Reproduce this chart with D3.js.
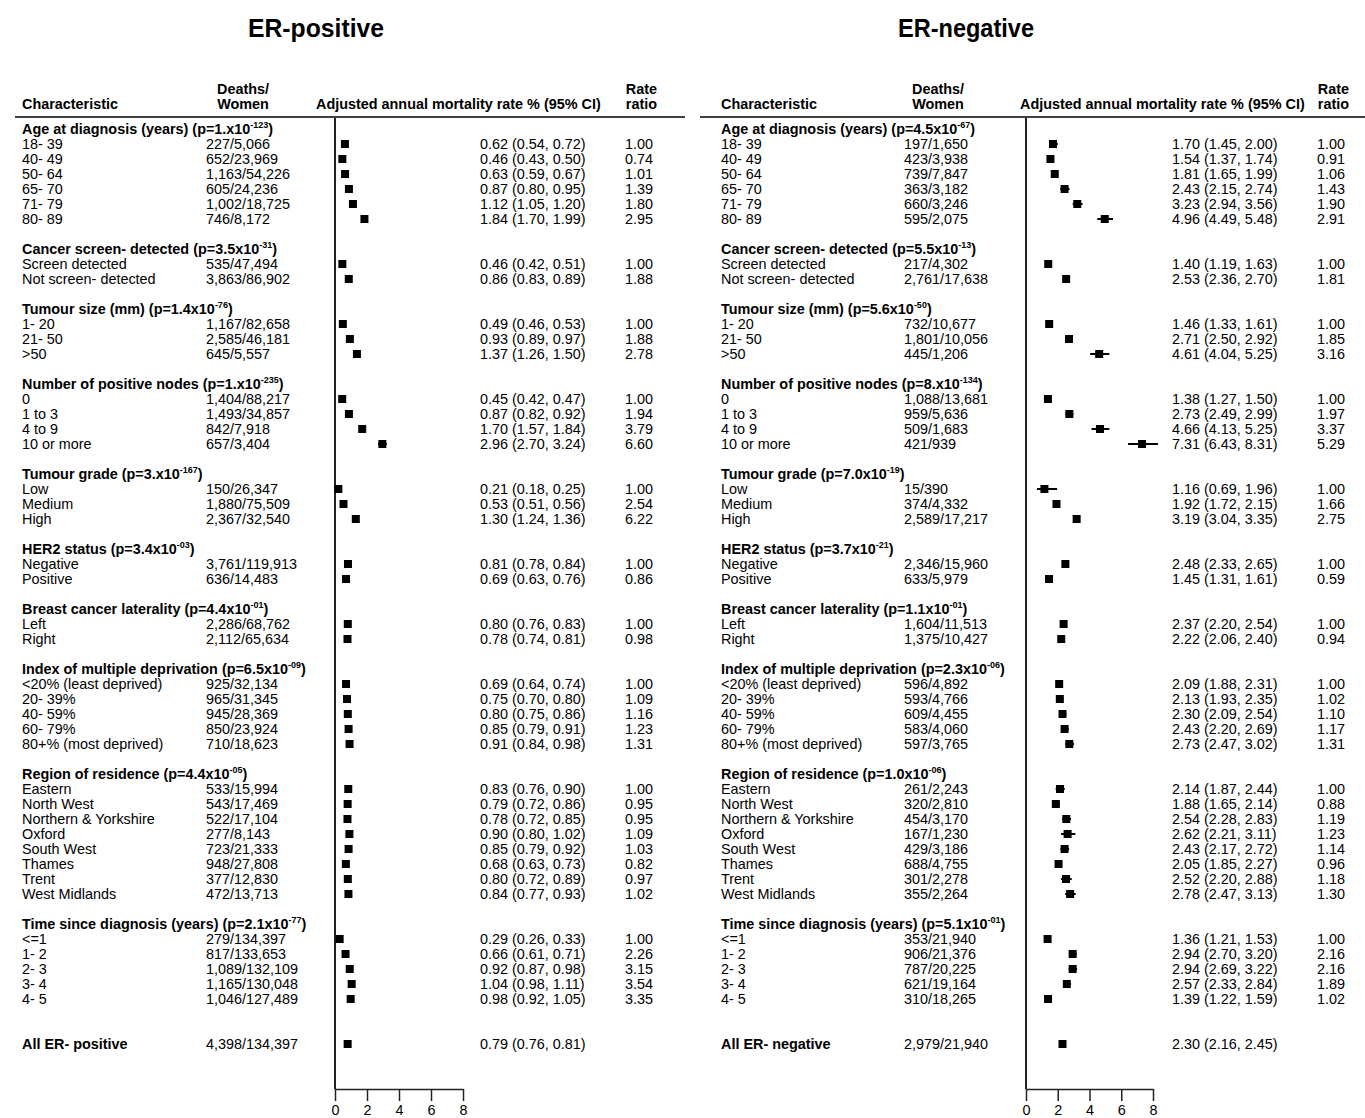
<!DOCTYPE html>
<html>
<head>
<meta charset="utf-8">
<script src="https://cdn.jsdelivr.net/npm/d3@7"></script>
<style>
  html, body { margin: 0; padding: 0; background: #fff; }
  svg text { font-family: "Liberation Sans", Arial, sans-serif; fill: #000; }
</style>
</head>
<body>
<script>
// Section headings and row categories (shared by both panels)
const sectionTitles = [
  "Age at diagnosis (years)", "Cancer screen- detected", "Tumour size (mm)",
  "Number of positive nodes", "Tumour grade", "HER2 status",
  "Breast cancer laterality", "Index of multiple deprivation",
  "Region of residence", "Time since diagnosis (years)"
];
const rowLabels = [
  ["18- 39", "40- 49", "50- 64", "65- 70", "71- 79", "80- 89"],
  ["Screen detected", "Not screen- detected"],
  ["1- 20", "21- 50", ">50"],
  ["0", "1 to 3", "4 to 9", "10 or more"],
  ["Low", "Medium", "High"],
  ["Negative", "Positive"],
  ["Left", "Right"],
  ["<20% (least deprived)", "20- 39%", "40- 59%", "60- 79%", "80+% (most deprived)"],
  ["Eastern", "North West", "Northern & Yorkshire", "Oxford", "South West", "Thames", "Trent", "West Midlands"],
  ["<=1", "1- 2", "2- 3", "3- 4", "4- 5"]
];
const axisTicks = [0, 2, 4, 6, 8];

// ER-positive
const posPMant = ["1.", "3.5", "1.4", "1.", "3.", "3.4", "4.4", "6.5", "4.4", "2.1"];
const posPExp = ["-123", "-31", "-76", "-235", "-167", "-03", "-01", "-09", "-05", "-77"];
const posDeaths = [
  "227/5,066", "652/23,969", "1,163/54,226", "605/24,236", "1,002/18,725", "746/8,172",
  "535/47,494", "3,863/86,902",
  "1,167/82,658", "2,585/46,181", "645/5,557",
  "1,404/88,217", "1,493/34,857", "842/7,918", "657/3,404",
  "150/26,347", "1,880/75,509", "2,367/32,540",
  "3,761/119,913", "636/14,483",
  "2,286/68,762", "2,112/65,634",
  "925/32,134", "965/31,345", "945/28,369", "850/23,924", "710/18,623",
  "533/15,994", "543/17,469", "522/17,104", "277/8,143", "723/21,333", "948/27,808", "377/12,830", "472/13,713",
  "279/134,397", "817/133,653", "1,089/132,109", "1,165/130,048", "1,046/127,489"
];
const posRate = [0.62, 0.46, 0.63, 0.87, 1.12, 1.84, 0.46, 0.86, 0.49, 0.93, 1.37, 0.45, 0.87, 1.70, 2.96,
  0.21, 0.53, 1.30, 0.81, 0.69, 0.80, 0.78, 0.69, 0.75, 0.80, 0.85, 0.91,
  0.83, 0.79, 0.78, 0.90, 0.85, 0.68, 0.80, 0.84, 0.29, 0.66, 0.92, 1.04, 0.98];
const posLo = [0.54, 0.43, 0.59, 0.80, 1.05, 1.70, 0.42, 0.83, 0.46, 0.89, 1.26, 0.42, 0.82, 1.57, 2.70,
  0.18, 0.51, 1.24, 0.78, 0.63, 0.76, 0.74, 0.64, 0.70, 0.75, 0.79, 0.84,
  0.76, 0.72, 0.72, 0.80, 0.79, 0.63, 0.72, 0.77, 0.26, 0.61, 0.87, 0.98, 0.92];
const posHi = [0.72, 0.50, 0.67, 0.95, 1.20, 1.99, 0.51, 0.89, 0.53, 0.97, 1.50, 0.47, 0.92, 1.84, 3.24,
  0.25, 0.56, 1.36, 0.84, 0.76, 0.83, 0.81, 0.74, 0.80, 0.86, 0.91, 0.98,
  0.90, 0.86, 0.85, 1.02, 0.92, 0.73, 0.89, 0.93, 0.33, 0.71, 0.98, 1.11, 1.05];
const posRatio = [1.00, 0.74, 1.01, 1.39, 1.80, 2.95, 1.00, 1.88, 1.00, 1.88, 2.78, 1.00, 1.94, 3.79, 6.60,
  1.00, 2.54, 6.22, 1.00, 0.86, 1.00, 0.98, 1.00, 1.09, 1.16, 1.23, 1.31,
  1.00, 0.95, 0.95, 1.09, 1.03, 0.82, 0.97, 1.02, 1.00, 2.26, 3.15, 3.54, 3.35];
const posTotal = ["All ER- positive", "4,398/134,397", 0.79, 0.76, 0.81];

// ER-negative
const negPMant = ["4.5", "5.5", "5.6", "8.", "7.0", "3.7", "1.1", "2.3", "1.0", "5.1"];
const negPExp = ["-67", "-13", "-50", "-134", "-19", "-21", "-01", "-06", "-06", "-01"];
const negDeaths = [
  "197/1,650", "423/3,938", "739/7,847", "363/3,182", "660/3,246", "595/2,075",
  "217/4,302", "2,761/17,638",
  "732/10,677", "1,801/10,056", "445/1,206",
  "1,088/13,681", "959/5,636", "509/1,683", "421/939",
  "15/390", "374/4,332", "2,589/17,217",
  "2,346/15,960", "633/5,979",
  "1,604/11,513", "1,375/10,427",
  "596/4,892", "593/4,766", "609/4,455", "583/4,060", "597/3,765",
  "261/2,243", "320/2,810", "454/3,170", "167/1,230", "429/3,186", "688/4,755", "301/2,278", "355/2,264",
  "353/21,940", "906/21,376", "787/20,225", "621/19,164", "310/18,265"
];
const negRate = [1.70, 1.54, 1.81, 2.43, 3.23, 4.96, 1.40, 2.53, 1.46, 2.71, 4.61, 1.38, 2.73, 4.66, 7.31,
  1.16, 1.92, 3.19, 2.48, 1.45, 2.37, 2.22, 2.09, 2.13, 2.30, 2.43, 2.73,
  2.14, 1.88, 2.54, 2.62, 2.43, 2.05, 2.52, 2.78, 1.36, 2.94, 2.94, 2.57, 1.39];
const negLo = [1.45, 1.37, 1.65, 2.15, 2.94, 4.49, 1.19, 2.36, 1.33, 2.50, 4.04, 1.27, 2.49, 4.13, 6.43,
  0.69, 1.72, 3.04, 2.33, 1.31, 2.20, 2.06, 1.88, 1.93, 2.09, 2.20, 2.47,
  1.87, 1.65, 2.28, 2.21, 2.17, 1.85, 2.20, 2.47, 1.21, 2.70, 2.69, 2.33, 1.22];
const negHi = [2.00, 1.74, 1.99, 2.74, 3.56, 5.48, 1.63, 2.70, 1.61, 2.92, 5.25, 1.50, 2.99, 5.25, 8.31,
  1.96, 2.15, 3.35, 2.65, 1.61, 2.54, 2.40, 2.31, 2.35, 2.54, 2.69, 3.02,
  2.44, 2.14, 2.83, 3.11, 2.72, 2.27, 2.88, 3.13, 1.53, 3.20, 3.22, 2.84, 1.59];
const negRatio = [1.00, 0.91, 1.06, 1.43, 1.90, 2.91, 1.00, 1.81, 1.00, 1.85, 3.16, 1.00, 1.97, 3.37, 5.29,
  1.00, 1.66, 2.75, 1.00, 0.59, 1.00, 0.94, 1.00, 1.02, 1.10, 1.17, 1.31,
  1.00, 0.88, 1.19, 1.23, 1.14, 0.96, 1.18, 1.30, 1.00, 2.16, 2.16, 1.89, 1.02];
const negTotal = ["All ER- negative", "2,979/21,940", 2.30, 2.16, 2.45];

const W = 1365, H = 1118;
const svg = d3.select("body").append("svg").attr("width", W).attr("height", H);

const f2 = d3.format(".2f");
// row index -> vertical centre of that row
const yRow = d3.scaleLinear().domain([0, 1]).range([129, 144]);
const FS = 14.4;
const BASE = 5; // baseline offset from row centre

function drawPanel(cfg) {
  const g = svg.append("g");
  const x = d3.scaleLinear().domain([0, 8]).range([cfg.x0, cfg.x8]);

  // build row list: section heading, its rows, one blank row
  const rows = [];
  let idx = 0, k = 0;
  sectionTitles.forEach((t, s) => {
    rows.push({ type: "head", i: idx++, title: t, mant: cfg.pMant[s], exp: cfg.pExp[s] });
    rowLabels[s].forEach(lbl => {
      rows.push({ type: "item", i: idx++, label: lbl, deaths: cfg.deaths[k],
        rate: cfg.rate[k], lo: cfg.lo[k], hi: cfg.hi[k], ratio: cfg.ratio[k] });
      k++;
    });
    idx++;
  });
  idx += 1;
  const totalRow = { type: "total", i: idx, label: cfg.total[0], deaths: cfg.total[1],
    rate: cfg.total[2], lo: cfg.total[3], hi: cfg.total[4] };
  rows.push(totalRow);
  const yAxis = yRow(totalRow.i) + 45;

  // title
  g.append("text")
    .attr("x", cfg.titleX).attr("y", 37)
    .attr("text-anchor", "middle")
    .attr("font-size", 25).attr("font-weight", "bold")
    .style("font-family", "'Liberation Sans Narrow', 'Arial Narrow', 'Liberation Sans', sans-serif")
    .attr("textLength", 136).attr("lengthAdjust", "spacingAndGlyphs")
    .text(cfg.title);

  // column headers
  const hdr = g.append("g").attr("font-size", FS).attr("font-weight", "bold");
  hdr.append("text").attr("x", cfg.charX).attr("y", 109).text("Characteristic");
  hdr.append("text").attr("x", cfg.deathsHdrX).attr("y", 94).attr("text-anchor", "middle").text("Deaths/");
  hdr.append("text").attr("x", cfg.deathsHdrX).attr("y", 109).attr("text-anchor", "middle").text("Women");
  hdr.append("text").attr("x", cfg.estHdrX).attr("y", 109).text("Adjusted annual mortality rate % (95% CI)");
  hdr.append("text").attr("x", cfg.ratioX).attr("y", 94).attr("text-anchor", "end").text("Rate");
  hdr.append("text").attr("x", cfg.ratioX).attr("y", 109).attr("text-anchor", "end").text("ratio");

  g.append("line")
    .attr("x1", cfg.ruleX0).attr("x2", cfg.ruleX1)
    .attr("y1", 117).attr("y2", 117)
    .attr("stroke", "#000").attr("stroke-width", 1.5);

  // vertical reference line at zero
  g.append("line")
    .attr("x1", x(0)).attr("x2", x(0))
    .attr("y1", 118).attr("y2", yAxis)
    .attr("stroke", "#222").attr("stroke-width", 2);

  // section headings with p-values
  const heads = g.selectAll("text.head").data(rows.filter(r => r.type === "head")).join("text")
    .attr("class", "head")
    .attr("x", cfg.charX).attr("y", r => yRow(r.i) + BASE)
    .attr("font-size", FS).attr("font-weight", "bold");
  heads.append("tspan").text(r => `${r.title} (p=${r.mant}x10`);
  heads.append("tspan").attr("font-size", 9).attr("dy", -6).text(r => r.exp);
  heads.append("tspan").attr("dy", 6).text(")");

  const items = rows.filter(r => r.type !== "head");

  // labels
  g.selectAll("text.lbl").data(items).join("text")
    .attr("class", "lbl")
    .attr("x", cfg.charX).attr("y", r => yRow(r.i) + BASE)
    .attr("font-size", FS)
    .attr("font-weight", r => r.type === "total" ? "bold" : "normal")
    .text(r => r.label);

  g.selectAll("text.deaths").data(items).join("text")
    .attr("class", "deaths")
    .attr("x", cfg.deathsX).attr("y", r => yRow(r.i) + BASE)
    .attr("font-size", FS)
    .text(r => r.deaths);

  g.selectAll("text.est").data(items).join("text")
    .attr("class", "est")
    .attr("x", cfg.estX).attr("y", r => yRow(r.i) + BASE)
    .attr("font-size", FS)
    .text(r => `${f2(r.rate)} (${f2(r.lo)}, ${f2(r.hi)})`);

  g.selectAll("text.ratio").data(items.filter(r => r.type === "item")).join("text")
    .attr("class", "ratio")
    .attr("x", cfg.ratioX - 4).attr("y", r => yRow(r.i) + BASE)
    .attr("text-anchor", "end")
    .attr("font-size", FS)
    .text(r => f2(r.ratio));

  // confidence intervals
  g.selectAll("line.ci").data(items).join("line")
    .attr("class", "ci")
    .attr("x1", r => x(r.lo)).attr("x2", r => x(r.hi))
    .attr("y1", r => yRow(r.i)).attr("y2", r => yRow(r.i))
    .attr("stroke", "#000").attr("stroke-width", 2);

  // point estimates
  const s = 8;
  g.selectAll("rect.pt").data(items).join("rect")
    .attr("class", "pt")
    .attr("x", r => x(r.rate) - s / 2).attr("y", r => yRow(r.i) - s / 2)
    .attr("width", s).attr("height", s)
    .attr("fill", "#000");

  // x axis
  const ax = g.append("g")
    .attr("transform", `translate(0,${yAxis})`)
    .call(d3.axisBottom(x).tickValues(axisTicks).tickSize(12).tickSizeOuter(0).tickPadding(4));
  ax.select(".domain").attr("stroke", "#222").attr("stroke-width", 1.5);
  ax.selectAll(".tick line").attr("stroke", "#222").attr("stroke-width", 1.5);
  ax.selectAll(".tick text").attr("font-size", FS).style("font-family", "'Liberation Sans', Arial, sans-serif").attr("fill", "#000");
}

drawPanel({
  title: "ER-positive", titleX: 316,
  charX: 22, deathsX: 206, deathsHdrX: 243, estX: 480, estHdrX: 316, ratioX: 657,
  ruleX0: 15, ruleX1: 685, x0: 335, x8: 463,
  pMant: posPMant, pExp: posPExp, deaths: posDeaths, rate: posRate, lo: posLo, hi: posHi,
  ratio: posRatio, total: posTotal
});

drawPanel({
  title: "ER-negative", titleX: 966,
  charX: 721, deathsX: 904, deathsHdrX: 938, estX: 1172, estHdrX: 1020, ratioX: 1349,
  ruleX0: 700, ruleX1: 1365, x0: 1026, x8: 1153,
  pMant: negPMant, pExp: negPExp, deaths: negDeaths, rate: negRate, lo: negLo, hi: negHi,
  ratio: negRatio, total: negTotal
});
</script>
</body>
</html>
